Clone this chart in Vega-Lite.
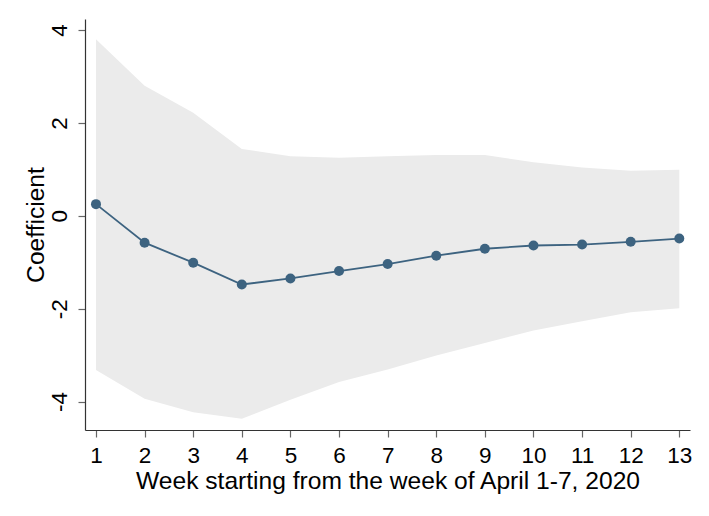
{
  "$schema": "https://vega.github.io/schema/vega-lite/v6.json",
  "autosize": {"type": "none"},
  "padding": {"left": 85, "top": 19, "right": 19, "bottom": 86},
  "width": 605,
  "height": 411,
  "background": "white",
  "data": {
    "values": [
      {"week": 1, "coef": 0.25, "lo": -3.32, "hi": 3.80},
      {"week": 2, "coef": -0.58, "lo": -3.94, "hi": 2.80},
      {"week": 3, "coef": -1.01, "lo": -4.23, "hi": 2.22},
      {"week": 4, "coef": -1.48, "lo": -4.37, "hi": 1.44},
      {"week": 5, "coef": -1.35, "lo": -3.96, "hi": 1.28},
      {"week": 6, "coef": -1.19, "lo": -3.58, "hi": 1.25},
      {"week": 7, "coef": -1.04, "lo": -3.31, "hi": 1.28},
      {"week": 8, "coef": -0.86, "lo": -3.01, "hi": 1.31},
      {"week": 9, "coef": -0.71, "lo": -2.74, "hi": 1.31},
      {"week": 10, "coef": -0.64, "lo": -2.47, "hi": 1.15},
      {"week": 11, "coef": -0.62, "lo": -2.27, "hi": 1.04},
      {"week": 12, "coef": -0.56, "lo": -2.08, "hi": 0.97},
      {"week": 13, "coef": -0.49, "lo": -1.99, "hi": 0.99}
    ]
  },
  "encoding": {
    "x": {
      "field": "week",
      "type": "quantitative",
      "scale": {"domain": [0.774, 13.22], "nice": false, "zero": false},
      "axis": {
        "title": "Week starting from the week of April 1-7, 2020",
        "values": [1, 2, 3, 4, 5, 6, 7, 8, 9, 10, 11, 12, 13],
        "grid": false,
        "labelBaseline": "alphabetic",
        "labelPadding": 25.5,
        "titleBaseline": "alphabetic",
        "titleY": 58
      }
    }
  },
  "layer": [
    {
      "mark": {"type": "area", "color": "#ebebeb", "opacity": 1},
      "encoding": {
        "y": {
          "field": "lo",
          "type": "quantitative",
          "scale": {"domain": [-4.613, 4.237], "nice": false, "zero": false},
          "axis": {
            "title": "Coefficient",
            "values": [-4, -2, 0, 2, 4],
            "labelExpr": "'' + datum.value",
            "grid": false,
            "labelAngle": -90,
            "labelAlign": "center",
            "labelBaseline": "alphabetic",
            "labelPadding": 12,
            "titleBaseline": "alphabetic",
            "titleX": -42
          }
        },
        "y2": {"field": "hi"}
      }
    },
    {
      "mark": {"type": "rule", "color": "#444444", "strokeWidth": 1.5},
      "encoding": {"y": {"datum": 0}}
    },
    {
      "mark": {"type": "line", "color": "#3d6380", "strokeWidth": 1.8},
      "encoding": {"y": {"field": "coef", "type": "quantitative"}}
    },
    {
      "mark": {"type": "point", "filled": true, "color": "#3d6380", "size": 100, "opacity": 1},
      "encoding": {"y": {"field": "coef", "type": "quantitative"}}
    }
  ],
  "config": {
    "view": {"stroke": null},
    "font": "Liberation Sans",
    "axis": {
      "labelFont": "Liberation Sans",
      "titleFont": "Liberation Sans",
      "labelFontSize": 22.5,
      "titleFontSize": 24.6,
      "titleFontWeight": "normal",
      "labelColor": "black",
      "titleColor": "black",
      "domainColor": "#333333",
      "domainWidth": 1.2,
      "tickColor": "#666666",
      "tickSize": 7,
      "tickWidth": 1.2
    }
  }
}
